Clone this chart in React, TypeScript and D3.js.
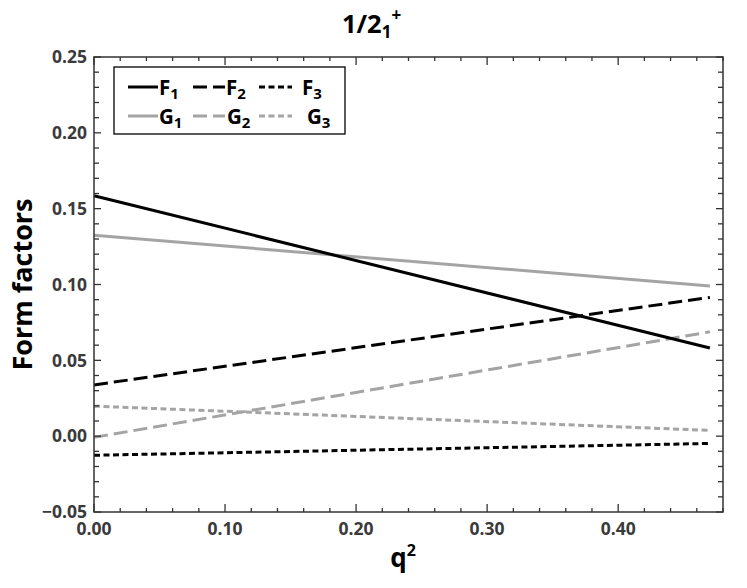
import React, { useEffect, useRef } from "react";
import * as d3 from "d3";

const qValues = [0, 0.47];
const F1 = [0.1585, 0.0581];
const F2 = [0.0338, 0.0915];
const F3 = [-0.0126, -0.0048];
const G1 = [0.1325, 0.099];
const G2 = [-0.0008, 0.0688];
const G3 = [0.0198, 0.0038];

const xTicks = [0, 0.1, 0.2, 0.3, 0.4];
const yTicks = [-0.05, 0, 0.05, 0.1, 0.15, 0.2, 0.25];

const seriesNames = ["F1", "F2", "F3", "G1", "G2", "G3"];
const seriesValues = [F1, F2, F3, G1, G2, G3];

const W = 747, H = 588;
const M = { left: 94, right: 723, top: 57, bottom: 512 };
const BLACK = "#000";
const GREY = "#a4a4a4";
const FONT = "'Open Sans', 'Noto Sans', sans-serif";

const styleFor = (name: string) => {
  const color = name[0] === "F" ? BLACK : GREY;
  const idx = name[1];
  const dash = idx === "1" ? null : idx === "2" ? "14,6" : "6,3.5";
  return { color, dash };
};

export default function App() {
  const ref = useRef<SVGSVGElement>(null);
  useEffect(() => {
    const svg = d3.select(ref.current);
    svg.selectAll("*").remove();
    const x = d3.scaleLinear().domain([0, 0.48]).range([M.left, M.right]);
    const y = d3.scaleLinear().domain([-0.05, 0.25]).range([M.bottom, M.top]);

    const g = svg.append("g");
    const line = d3.line<number>().x((_, i) => x(qValues[i])).y((d) => y(d));
    const order = [3, 4, 5, 0, 1, 2];
    order.forEach((k) => {
      const name = seriesNames[k];
      const st = styleFor(name);
      g.append("path")
        .attr("d", line(seriesValues[k]))
        .attr("fill", "none")
        .attr("stroke", st.color)
        .attr("stroke-width", 3)
        .attr("stroke-dasharray", st.dash);
    });

    // frame
    g.append("rect")
      .attr("x", M.left).attr("y", M.top)
      .attr("width", M.right - M.left).attr("height", M.bottom - M.top)
      .attr("fill", "none").attr("stroke", "#333").attr("stroke-width", 1.5);

    const xMinor = d3.range(0, 0.4801, 0.02);
    xMinor.forEach((v) => {
      const major = Math.abs(v * 10 - Math.round(v * 10)) < 1e-6;
      const len = major ? 8 : 4;
      g.append("line").attr("x1", x(v)).attr("x2", x(v)).attr("y1", M.bottom).attr("y2", M.bottom - len).attr("stroke", "#333").attr("stroke-width", 1.3);
      g.append("line").attr("x1", x(v)).attr("x2", x(v)).attr("y1", M.top).attr("y2", M.top + len).attr("stroke", "#333").attr("stroke-width", 1.3);
    });
    const yMinor = d3.range(-0.05, 0.2501, 0.01);
    yMinor.forEach((v) => {
      const major = Math.abs(v * 20 - Math.round(v * 20)) < 1e-6;
      const len = major ? 7 : 5;
      g.append("line").attr("y1", y(v)).attr("y2", y(v)).attr("x1", M.left).attr("x2", M.left + len).attr("stroke", "#333").attr("stroke-width", 1.3);
      g.append("line").attr("y1", y(v)).attr("y2", y(v)).attr("x1", M.right).attr("x2", M.right - len).attr("stroke", "#333").attr("stroke-width", 1.3);
    });

    xTicks.forEach((v) => {
      g.append("text").attr("x", x(v)).attr("y", 535).attr("text-anchor", "middle")
        .attr("font-family", FONT).attr("font-weight", 700).attr("font-size", 17.5).attr("fill", "#3a3a3a")
        .text(d3.format(".2f")(v));
    });
    yTicks.forEach((v) => {
      g.append("text").attr("x", 87).attr("y", y(v) + 6.2).attr("text-anchor", "end")
        .attr("font-family", FONT).attr("font-weight", 700).attr("font-size", 17.5).attr("fill", "#3a3a3a")
        .text(d3.format(".2f")(v).replace("-", "\u2212"));
    });

    const xt = g.append("text").attr("x", 403).attr("y", 567).attr("text-anchor", "middle")
      .attr("font-family", FONT).attr("font-weight", 700).attr("font-size", 26).attr("fill", "#000");
    xt.append("tspan").text("q");
    xt.append("tspan").attr("font-size", 16).attr("dy", -11).text("2");

    g.append("text").attr("transform", `translate(32,${(M.top + M.bottom) / 2}) rotate(-90)`)
      .attr("text-anchor", "middle").attr("font-family", FONT).attr("font-weight", 700)
      .attr("font-size", 27).attr("fill", "#000").text("Form factors");

    const tt = g.append("text").attr("x", 342).attr("y", 33)
      .attr("font-family", FONT).attr("font-weight", 700).attr("font-size", 25.5).attr("fill", "#000");
    tt.append("tspan").text("1/2");
    tt.append("tspan").attr("font-size", 17).attr("dy", 5).text("1");
    tt.append("tspan").attr("font-size", 17).attr("dy", -17).text("+");

    // legend
    g.append("rect").attr("x", 114).attr("y", 67).attr("width", 231).attr("height", 67)
      .attr("fill", "#fff").attr("stroke", "#000").attr("stroke-width", 1.3);
    const cols = [
      { x1: 128, x2: 158, tF: 159, tG: 159 },
      { x1: 193, x2: 225, tF: 226, tG: 227 },
      { x1: 259, x2: 292, tF: 302, tG: 307 },
    ];
    const rows = [87, 116];
    seriesNames.forEach((name, k) => {
      const row = k < 3 ? 0 : 1;
      const col = cols[k % 3];
      const st = styleFor(name);
      const yy = rows[row];
      g.append("line").attr("x1", col.x1).attr("x2", col.x2).attr("y1", yy).attr("y2", yy)
        .attr("stroke", st.color).attr("stroke-width", 3).attr("stroke-dasharray", st.dash);
      const t = g.append("text").attr("x", row === 0 ? col.tF : col.tG).attr("y", yy + 7.5)
        .attr("font-family", FONT).attr("font-weight", 700).attr("font-size", 20.5).attr("fill", "#000");
      t.append("tspan").text(name[0]);
      t.append("tspan").attr("font-size", 15).attr("dy", 4).text(name[1]);
    });
  }, []);
  return (
    <svg ref={ref} width={W} height={H}
      style={{ position: "absolute", left: 0, top: 0, background: "#fff" }} />
  );
}
